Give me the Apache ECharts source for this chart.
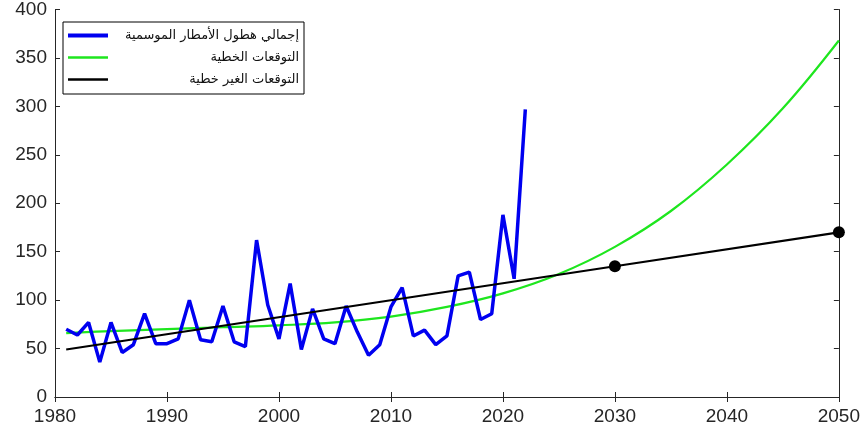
<!DOCTYPE html>
<html>
<head>
<meta charset="utf-8">
<script src="https://cdn.jsdelivr.net/npm/echarts@6/dist/echarts.min.js"></script>
<style>
  html, body { margin: 0; padding: 0; background: #fff; }
  #chart { width: 863px; height: 432px; }
</style>
</head>
<body>
<div id="chart"></div>
<script>
// Seasonal rainfall totals, 1981-2022
const years = [1981, 1982, 1983, 1984, 1985, 1986, 1987, 1988, 1989, 1990,
  1991, 1992, 1993, 1994, 1995, 1996, 1997, 1998, 1999, 2000,
  2001, 2002, 2003, 2004, 2005, 2006, 2007, 2008, 2009, 2010,
  2011, 2012, 2013, 2014, 2015, 2016, 2017, 2018, 2019, 2020,
  2021, 2022];
const rainfall = [70, 64, 77, 36, 77, 46, 54, 86, 55, 55,
  60, 100, 59, 57, 94, 57, 52, 162, 95, 60,
  117, 49, 91, 60, 55, 94, 67, 43, 54, 93,
  113, 63, 69, 54, 63, 125, 129, 80, 86, 188,
  122, 297];

// Curved projection
const curveYears = [1981, 1985, 1990, 1995, 2000, 2005, 2010, 2015, 2020, 2025, 2030, 2035, 2040, 2045, 2050];
const curveValues = [66, 68, 70, 72, 74, 77, 83, 93, 107, 127, 155, 192, 240, 298, 368];

// Straight projection with marked points
const straightYears = [1981, 2030, 2050];
const straightValues = [49, 135, 170];
const straightMarked = [false, true, true];

const xTicks = [1980, 1990, 2000, 2010, 2020, 2030, 2040, 2050];
const yTicks = [0, 50, 100, 150, 200, 250, 300, 350, 400];

const seriesNames = ['إجمالي هطول الأمطار الموسمية', 'التوقعات الخطية', 'التوقعات الغير خطية'];

const axisColor = '#262626';
const labelFont = { fontFamily: 'Liberation Sans, Arial, sans-serif', fontSize: 19, color: axisColor };

const chart = echarts.init(document.getElementById('chart'), null, { renderer: 'canvas' });

const boxAxis = {
  axisLine: { show: true, lineStyle: { color: axisColor, width: 1 } },
  axisTick: { show: true, inside: true, length: 5, lineStyle: { color: axisColor } },
  splitLine: { show: false }
};

// legend swatches: plain strokes, the rainfall one a little heavier
const thickIcon = 'path://M0,0h40v4h-40z';
const thinIcon = 'path://M0,0h40v2.5h-40z';

chart.setOption({
  backgroundColor: '#fff',
  animation: false,
  grid: { left: 55, right: 22, top: 9, bottom: 35 },
  xAxis: [
    Object.assign({
      type: 'value', min: xTicks[0], max: xTicks[xTicks.length - 1], interval: 10,
      position: 'bottom',
      axisLabel: Object.assign({ margin: 10, formatter: v => String(v) }, labelFont)
    }, boxAxis),
    Object.assign({
      type: 'value', min: xTicks[0], max: xTicks[xTicks.length - 1], interval: 10,
      position: 'top', axisLabel: { show: false }
    }, boxAxis)
  ],
  yAxis: [
    Object.assign({
      type: 'value', min: yTicks[0], max: yTicks[yTicks.length - 1], interval: 50,
      position: 'left',
      axisLabel: Object.assign({ margin: 8 }, labelFont)
    }, boxAxis),
    Object.assign({
      type: 'value', min: yTicks[0], max: yTicks[yTicks.length - 1], interval: 50,
      position: 'right', axisLabel: { show: false }
    }, boxAxis)
  ],
  legend: {
    left: 63, top: 22, orient: 'vertical',
    backgroundColor: '#fff', borderColor: '#000', borderWidth: 1,
    padding: [7, 5, 8, 5],
    itemWidth: 40, itemHeight: 14, itemGap: 9,
    data: [
      { name: seriesNames[0], icon: thickIcon },
      { name: seriesNames[1], icon: thinIcon },
      { name: seriesNames[2], icon: thinIcon }
    ],
    formatter: name => '{t|' + name + '}',
    textStyle: {
      rich: {
        t: { width: 186, align: 'right', fontFamily: 'DejaVu Sans, sans-serif', fontSize: 13, color: '#111' }
      }
    }
  },
  series: [
    {
      name: seriesNames[0], type: 'line', showSymbol: false, symbol: 'none',
      data: years.map((y, i) => [y, rainfall[i]]),
      lineStyle: { color: '#0000f0', width: 3.5 },
      itemStyle: { color: '#0000f0' },
      z: 3
    },
    {
      name: seriesNames[1], type: 'line', showSymbol: false, symbol: 'none', smooth: 0.4,
      data: curveYears.map((y, i) => [y, curveValues[i]]),
      lineStyle: { color: '#1ee61e', width: 2.2 },
      itemStyle: { color: '#1ee61e' },
      z: 2
    },
    {
      name: seriesNames[2], type: 'line', symbol: 'none',
      data: straightYears.map((y, i) => straightMarked[i]
        ? { value: [y, straightValues[i]], symbol: 'circle', symbolSize: 12 }
        : { value: [y, straightValues[i]] }),
      lineStyle: { color: '#000', width: 2.2 },
      itemStyle: { color: '#000' },
      z: 4
    }
  ]
});
</script>
</body>
</html>
